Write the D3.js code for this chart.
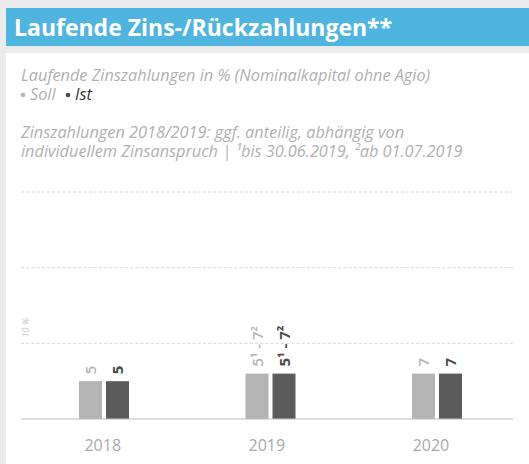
<!DOCTYPE html>
<html>
<head>
<meta charset="utf-8">
<script src="https://cdn.jsdelivr.net/npm/d3@7"></script>
<style>
  body { margin: 0; background: #ebebeb; }
  svg { display: block; font-family: "Open Sans", sans-serif; }
</style>
</head>
<body>
<svg id="chart" width="529" height="464"></svg>
<script>
// data
const years = ['2018', '2019', '2020'];
const series = ['soll', 'ist'];
const sollValues = [5, 6, 6];
const istValues = [5, 6, 6];
const sollLabels = ['5', '5¹ - 7²', '7'];
const istLabels = ['5', '5¹ - 7²', '7'];
const gridTicks = [10, 20, 30];
const legendItems = ['Soll', 'Ist'];

const colors = { soll: '#b4b4b4', ist: '#5b5b5b' };
const labelColors = { soll: '#b4b4b4', ist: '#4a4a4a' };

const svg = d3.select('#chart');

// header + panel
svg.append('rect').attr('x', 6).attr('y', 8).attr('width', 523).attr('height', 38).attr('fill', '#4fb5df');
svg.append('text')
    .attr('x', 14).attr('y', 36)
    .attr('fill', '#fff')
    .style('font-size', '23px')
    .style('font-weight', 700)
    .text('Laufende Zins-/Rückzahlungen**');

svg.append('rect').attr('x', 6).attr('y', 53).attr('width', 523).attr('height', 411).attr('fill', '#fff');

const subStyle = (sel) => sel.style('font-size', '16.3px').style('font-style', 'italic').attr('fill', '#b0b0b0');

svg.append('text').attr('x', 21).attr('y', 81).call(subStyle)
    .text('Laufende Zinszahlungen in % (Nominalkapital ohne Agio)');

// legend
const legendX = [23, 68];
const leg = svg.append('g').selectAll('g')
    .data(legendItems)
    .enter()
    .append('g')
    .attr('transform', (d, i) => `translate(${legendX[i]},0)`);
leg.append('circle')
    .attr('cx', 0).attr('cy', 95).attr('r', 2.3)
    .attr('fill', (d, i) => i == 0 ? '#b4b4b4' : '#4a4a4a');
leg.append('text')
    .attr('x', 7).attr('y', 100)
    .call(subStyle)
    .attr('fill', (d, i) => i == 0 ? '#b0b0b0' : '#333')
    .text(d => d);

svg.append('text').attr('x', 21).attr('y', 138).call(subStyle)
    .text('Zinszahlungen 2018/2019: ggf. anteilig, abhängig von');
svg.append('text').attr('x', 21).attr('y', 157).call(subStyle)
    .text('individuellem Zinsanspruch | ¹bis 30.06.2019, ²ab 01.07.2019');

// scales
const y = d3.scaleLinear().domain([0, 30]).range([419, 192]);
const xBar = d3.scaleBand().domain(years).range([20.75, 520.25]);
const xLab = d3.scaleBand().domain(years).range([20.7, 513]);
const xSeries = d3.scaleBand().domain(series).range([-25, 25]).paddingInner(4 / 27);

// grid
svg.append('g').selectAll('line')
    .data(gridTicks)
    .enter()
    .append('line')
    .attr('x1', 21).attr('x2', 513)
    .attr('y1', d => y(d)).attr('y2', d => y(d))
    .style('stroke', '#d6d6d6')
    .style('stroke-width', 1)
    .style('stroke-dasharray', '3,2.2');

svg.append('text')
    .attr('transform', `translate(28.5,${y(10) - 6}) rotate(-90)`)
    .attr('fill', '#c8c8c8')
    .style('font-size', '9px')
    .style('font-style', 'italic')
    .text('10 %');

// bars
const rows = years.map((yr, i) => ({
    year: yr,
    soll: sollValues[i], ist: istValues[i],
    sollLabel: sollLabels[i], istLabel: istLabels[i]
}));

const groups = svg.append('g').selectAll('g')
    .data(rows)
    .enter()
    .append('g')
    .attr('transform', d => `translate(${xBar(d.year) + xBar.bandwidth() / 2},0)`);

groups.selectAll('rect')
    .data(d => series.map(s => ({ key: s, value: d[s] })))
    .enter()
    .append('rect')
    .attr('x', d => xSeries(d.key))
    .attr('y', d => y(d.value))
    .attr('width', xSeries.bandwidth())
    .attr('height', d => y(0) - y(d.value))
    .attr('fill', d => colors[d.key]);

groups.selectAll('text')
    .data(d => series.map(s => ({ key: s, value: d[s], label: d[s + 'Label'] })))
    .enter()
    .append('text')
    .attr('transform', d => `translate(${xSeries(d.key) + xSeries.bandwidth() / 2 + 5.5},${y(d.value) - 7}) rotate(-90)`)
    .attr('fill', d => labelColors[d.key])
    .style('font-size', '15px')
    .style('font-weight', d => d.key == 'ist' ? 700 : 600)
    .text(d => d.label);

// baseline + x axis labels
svg.append('line')
    .attr('x1', 21).attr('x2', 513)
    .attr('y1', y(0)).attr('y2', y(0))
    .style('stroke', '#bdbdbd')
    .style('stroke-width', 1);

svg.append('g').selectAll('text')
    .data(years)
    .enter()
    .append('text')
    .attr('x', d => xLab(d) + xLab.bandwidth() / 2)
    .attr('y', 451)
    .attr('text-anchor', 'middle')
    .attr('fill', '#a8a8a8')
    .style('font-size', '16px')
    .text(d => d);
</script>
</body>
</html>
